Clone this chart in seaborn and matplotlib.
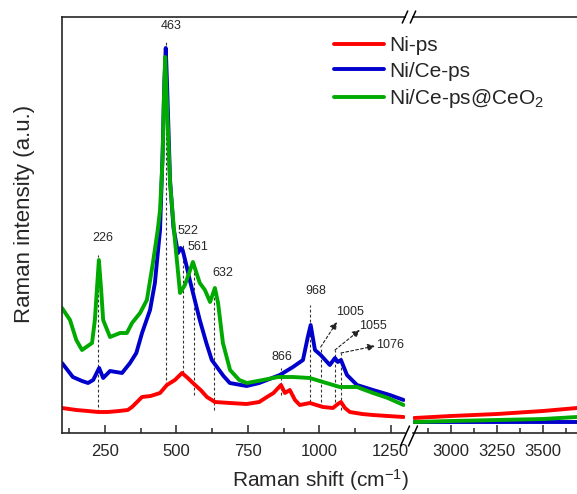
import numpy as np
import pandas as pd
import matplotlib
matplotlib.use("Agg")
import matplotlib.pyplot as plt
import seaborn as sns
from matplotlib.ticker import FixedLocator, NullLocator
from matplotlib.lines import Line2D

# ---------------- data ----------------
series = ["Ni-ps", "Ni/Ce-ps", "Ni/Ce-ps@CeO$\\mathregular{_2}$"]
colors = ["#FF0000", "#0000CC", "#00AA00"]

red_shift = [100, 150, 190, 226, 260, 300, 330, 345, 380, 410, 443, 467, 495, 520, 540,
             558, 585, 607, 635, 687, 746, 790, 817, 840, 866, 880, 897, 915, 932, 967,
             1013, 1048, 1065, 1076, 1090, 1107, 1150, 1188, 1240, 1295]
red_int = [25, 23, 22, 21, 21, 22, 23, 26, 36, 37, 40, 48, 53, 60, 55,
           50, 43, 36, 31, 30, 29, 31, 36, 40, 48, 40, 43, 33, 28, 30,
           26, 25, 29, 31, 25, 21, 19, 18, 17, 16]

blue_shift = [100, 138, 170, 191, 209, 230, 244, 268, 310, 338, 360, 380, 408, 425, 443,
              452, 458, 463, 468, 478, 490, 506, 515, 522, 535, 547, 582, 605, 624, 642,
              665, 687, 746, 790, 817, 862, 908, 943, 960, 970, 985, 1005, 1037, 1055,
              1065, 1076, 1097, 1132, 1188, 1247, 1295]
blue_int = [70, 56, 52, 50, 53, 65, 55, 62, 60, 70, 80, 100, 123, 150, 203,
            280, 350, 385, 345, 253, 205, 180, 185, 183, 168, 153, 113, 90, 73, 66,
            57, 50, 47, 50, 53, 58, 66, 73, 96, 108, 83, 78, 68, 75,
            71, 73, 58, 48, 43, 38, 33]

green_shift = [100, 128, 150, 170, 205, 215, 222, 229, 237, 244, 268, 303, 327, 345, 373,
               397, 418, 435, 443, 452, 456, 461, 467, 478, 495, 513, 530, 558, 582, 600,
               618, 635, 646, 663, 688, 720, 747, 803, 856, 908, 967, 1013, 1072, 1132,
               1188, 1240, 1295]
green_int = [125, 113, 93, 83, 90, 113, 143, 173, 143, 113, 96, 100, 100, 110, 120,
             133, 170, 203, 223, 275, 330, 376, 330, 250, 193, 140, 148, 171, 150, 143,
             131, 145, 130, 90, 63, 53, 50, 53, 56, 56, 55, 51, 46, 46,
             40, 35, 28]

right_shift = [2800, 3000, 3250, 3500, 3685]
red_right = [15, 17, 19, 22, 25]
blue_right = [11, 11, 11, 11, 11]
green_right = [11, 12, 13, 14, 16]

# peak annotations: line position, line top, line bottom, label x, label y
peak_pos = [226, 463, 522, 561, 632, 866, 968]
peak_top = [178, 393, 188, 171, 145, 65, 128]
peak_bot = [21, 48, 60, 38, 23, 38, 31]
peak_lx = [243, 481, 541, 576, 663, 869, 988]
peak_ly = [189, 401, 196, 180, 154, 70, 136]

arrow_pos = [1005, 1055, 1076]
arrow_top = [86, 83, 80]
arrow_bot = [26, 26, 23]
arrow_tip_x = [1062, 1142, 1195]
arrow_tip_y = [111, 103, 87]
arrow_lx = [1107, 1188, 1247]
arrow_ly = [121, 107, 88]

# ---------------- style ----------------
sns.set_style("ticks")
plt.rcParams["font.family"] = ["Liberation Sans", "DejaVu Sans"]
plt.rcParams["mathtext.fontset"] = "custom"
plt.rcParams["mathtext.rm"] = "Liberation Sans"
plt.rcParams["axes.linewidth"] = 1.2

W, H = 577, 494
fig = plt.figure(figsize=(W / 100, H / 100), dpi=100)
axL = fig.add_axes([62 / W, 1 - 433 / H, 343 / W, 416 / H])
axR = fig.add_axes([413 / W, 1 - 433 / H, 164 / W, 416 / H])

left_df = pd.concat([
    pd.DataFrame({"shift": red_shift, "int": red_int, "sample": series[0]}),
    pd.DataFrame({"shift": blue_shift, "int": blue_int, "sample": series[1]}),
    pd.DataFrame({"shift": green_shift, "int": green_int, "sample": series[2]}),
])
right_df = pd.concat([
    pd.DataFrame({"shift": right_shift, "int": red_right, "sample": series[0]}),
    pd.DataFrame({"shift": right_shift, "int": blue_right, "sample": series[1]}),
    pd.DataFrame({"shift": right_shift, "int": green_right, "sample": series[2]}),
])
pal = dict(zip(series, colors))
for ax, df in ((axL, left_df), (axR, right_df)):
    sns.lineplot(data=df, x="shift", y="int", hue="sample", palette=pal, ax=ax,
                 lw=2.8, legend=False, sort=False, estimator=None)
    ax.set_ylim(0, 416)
    ax.set_xlabel("")
    ax.set_ylabel("")
    ax.yaxis.set_major_locator(NullLocator())
    ax.tick_params(axis="x", which="major", direction="in", length=6, width=1.1,
                   labelsize=12, pad=8, top=False)
    ax.tick_params(axis="x", which="minor", direction="in", length=3.5, width=1.1,
                   top=False)
    ax.patch.set_alpha(0)

axL.set_xlim(100, 1300)
axL.xaxis.set_major_locator(FixedLocator([250, 500, 750, 1000, 1250]))
axL.xaxis.set_minor_locator(FixedLocator([125, 375, 625, 875, 1125]))
axL.spines["right"].set_visible(False)

axR.set_xlim(2793, 3685)
axR.xaxis.set_major_locator(FixedLocator([3000, 3250, 3500]))
axR.xaxis.set_minor_locator(FixedLocator([2875, 3125, 3375, 3625]))
axR.spines["left"].set_visible(False)
axR.spines["right"].set_visible(False)

# peak markers
dash = dict(color="#333333", lw=0.8, ls=(0, (2.5, 2)))
for p, t, b, lx, ly in zip(peak_pos, peak_top, peak_bot, peak_lx, peak_ly):
    axL.plot([p, p], [b, t], **dash, zorder=1)
    axL.text(lx, ly, str(p), ha="center", va="bottom", fontsize=9)
for p, t, b, tx, ty, lx, ly in zip(arrow_pos, arrow_top, arrow_bot, arrow_tip_x,
                                   arrow_tip_y, arrow_lx, arrow_ly):
    axL.plot([p, p], [b, t], **dash, zorder=1)
    axL.annotate("", xy=(tx, ty), xytext=(p, t),
                 arrowprops=dict(arrowstyle="-|>", color="#222222", lw=0.8,
                                 ls=(0, (2.5, 2)), mutation_scale=11,
                                 shrinkA=0, shrinkB=0))
    axL.text(lx, ly, str(p), ha="center", va="center", fontsize=9)

# axis labels
fig.text(25 / W, 1 - 214 / H, "Raman intensity (a.u.)", rotation=90,
         ha="center", va="center", fontsize=16)
fig.text(320 / W, 1 - 487 / H, "Raman shift (cm$\\mathregular{^{-1}}$)",
         ha="center", va="baseline", fontsize=15)

# legend
handles = [Line2D([], [], color=c, lw=2.8) for c in colors]
fig.legend(handles, series, loc="upper left", bbox_to_anchor=(334 / W, 1 - 36 / H),
           frameon=False, fontsize=15, handlelength=2.4, handletextpad=0.25,
           labelspacing=0.32, borderpad=0, borderaxespad=0)

# axis break marks
def slash(xc, yc, hh):
    for dx in (-4, 4):
        fig.add_artist(Line2D([(xc + dx - hh * 0.45) / W, (xc + dx + hh * 0.45) / W],
                              [1 - (yc + hh) / H, 1 - (yc - hh) / H],
                              transform=fig.transFigure, color="k", lw=1.1))

slash(409, 17, 6)
slash(409, 436, 10)

fig.savefig("out.png", dpi=100)
